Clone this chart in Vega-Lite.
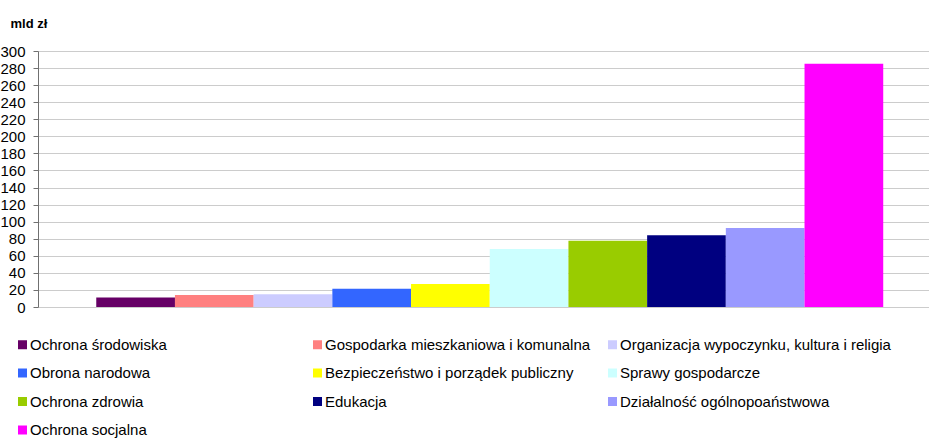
{
  "$schema": "https://vega.github.io/schema/vega-lite/v6.json",
  "width": 891,
  "height": 256,
  "autosize": "none",
  "padding": {"left": 38, "top": 51, "right": 0, "bottom": 131},
  "background": "white",
  "config": {"view": {"stroke": null}, "font": "Liberation Sans"},
  "data": {"values": [
    {"kategoria": "Ochrona środowiska", "wartosc": 11},
    {"kategoria": "Gospodarka mieszkaniowa i komunalna", "wartosc": 14},
    {"kategoria": "Organizacja wypoczynku, kultura i religia", "wartosc": 15},
    {"kategoria": "Obrona narodowa", "wartosc": 21.5},
    {"kategoria": "Bezpieczeństwo i porządek publiczny", "wartosc": 27},
    {"kategoria": "Sprawy gospodarcze", "wartosc": 68},
    {"kategoria": "Ochrona zdrowia", "wartosc": 77.5},
    {"kategoria": "Edukacja", "wartosc": 84},
    {"kategoria": "Działalność ogólnopoaństwowa", "wartosc": 92.5},
    {"kategoria": "Ochrona socjalna", "wartosc": 285}
  ]},
  "mark": {"type": "bar"},
  "encoding": {
    "x": {
      "field": "kategoria", "type": "nominal", "sort": null,
      "scale": {"paddingInner": 0, "paddingOuter": 0.661, "align": 0.56},
      "axis": null
    },
    "y": {
      "field": "wartosc", "type": "quantitative",
      "scale": {"domain": [0, 300], "nice": false},
      "axis": {
        "values": [0, 20, 40, 60, 80, 100, 120, 140, 160, 180, 200, 220, 240, 260, 280, 300],
        "title": "mld zł",
        "titleAngle": 0, "titleAlign": "left", "titleBaseline": "middle",
        "titleX": -28, "titleY": -28,
        "titleFontSize": 13, "titleFontWeight": "bold", "titleColor": "#000",
        "labelFontSize": 15, "labelColor": "#000", "labelPadding": 8,
        "tickSize": 5, "tickColor": "#707070", "domainColor": "#707070",
        "gridColor": "#cccccc", "gridWidth": 1
      }
    },
    "color": {
      "field": "kategoria", "type": "nominal", "sort": null,
      "scale": {
        "domain": ["Ochrona środowiska", "Gospodarka mieszkaniowa i komunalna", "Organizacja wypoczynku, kultura i religia", "Obrona narodowa", "Bezpieczeństwo i porządek publiczny", "Sprawy gospodarcze", "Ochrona zdrowia", "Edukacja", "Działalność ogólnopoaństwowa", "Ochrona socjalna"],
        "range": ["#660066", "#FF8080", "#CCCCFF", "#3366FF", "#FFFF00", "#CCFFFF", "#99CC00", "#000080", "#9999FF", "#FF00FF"]
      },
      "legend": {
        "title": null,
        "orient": "none",
        "direction": "horizontal",
        "legendX": -23,
        "legendY": 286,
        "columns": 3,
        "gridAlign": "all",
        "columnPadding": 9,
        "rowPadding": 12.5,
        "padding": 0,
        "symbolType": "square",
        "symbolSize": 81,
        "symbolStrokeWidth": 0,
        "labelOffset": 0,
        "labelFontSize": 15,
        "labelColor": "#000",
        "labelLimit": 400
      }
    }
  }
}
